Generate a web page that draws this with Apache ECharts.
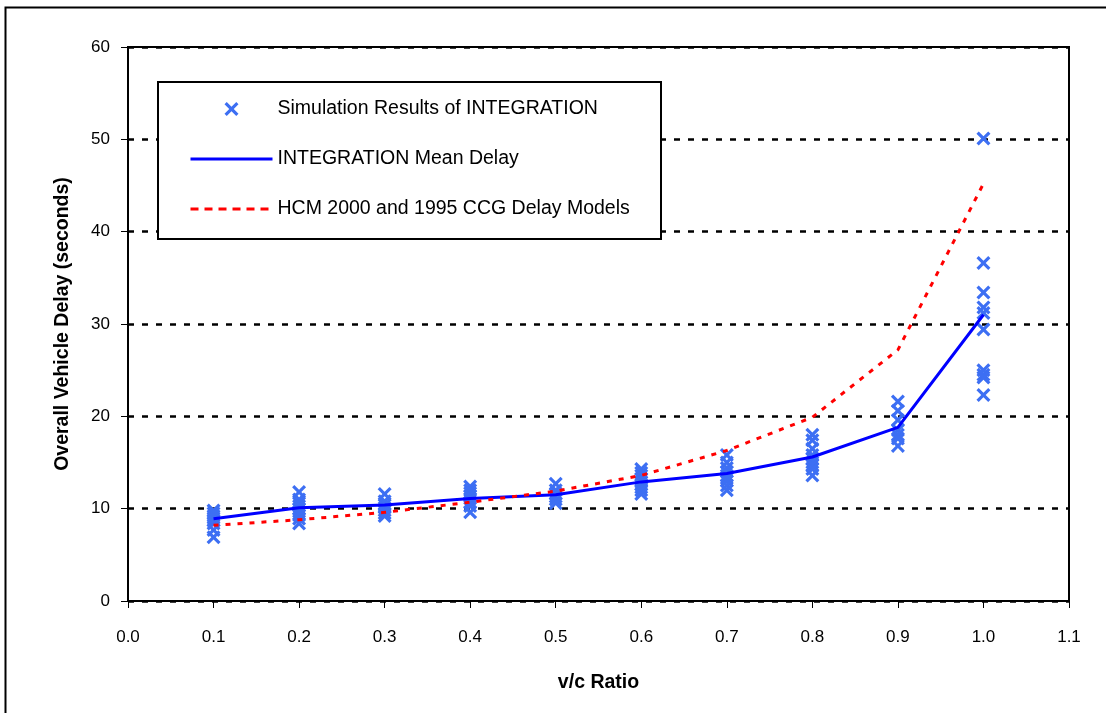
<!DOCTYPE html>
<html>
<head>
<meta charset="utf-8">
<script src="https://cdn.jsdelivr.net/npm/echarts@6/dist/echarts.min.js"></script>
<style>
html,body{margin:0;padding:0;background:#fff;}
#chart{width:1106px;height:713px;}
</style>
</head>
<body>
<div id="chart"></div>
<script>
// ---- data ----
var vcRatios = [0.1, 0.2, 0.3, 0.4, 0.5, 0.6, 0.7, 0.8, 0.9, 1.0];
var simDelays = [
  [9.8, 9.5, 9.2, 9.0, 8.7, 8.4, 7.7, 6.9],
  [11.8, 11.0, 10.6, 10.3, 10.0, 9.7, 9.3, 8.9, 8.4],
  [11.6, 10.8, 10.4, 10.1, 9.8, 9.5, 9.2],
  [12.4, 12.0, 11.7, 11.4, 11.1, 10.7, 10.3, 9.6],
  [12.7, 12.0, 11.6, 11.3, 11.0, 10.6],
  [14.3, 13.9, 13.6, 13.2, 12.9, 12.6, 12.3, 12.0, 11.6],
  [15.8, 15.0, 14.4, 14.0, 13.6, 13.3, 13.0, 12.5, 12.0],
  [18.0, 17.4, 16.5, 15.8, 15.4, 15.0, 14.7, 14.3, 13.6],
  [21.6, 20.6, 19.6, 18.5, 18.0, 17.6, 16.8],
  [50.1, 36.6, 33.4, 31.8, 31.2, 29.4, 25.0, 24.5, 24.2, 22.3]
];
var meanDelay = [8.9, 10.1, 10.4, 11.1, 11.5, 12.9, 13.8, 15.6, 18.8, 31.0];
var hcmDelay = [8.2, 8.8, 9.6, 10.7, 11.9, 13.6, 16.3, 19.9, 27.2, 45.2];
var xTicks = ['0.0','0.1','0.2','0.3','0.4','0.5','0.6','0.7','0.8','0.9','1.0','1.1'];
var seriesNames = ['Simulation Results of INTEGRATION', 'INTEGRATION Mean Delay', 'HCM 2000 and 1995 CCG Delay Models'];

// ---- build series data ----
var scatterData = [];
vcRatios.forEach(function (x, i) {
  simDelays[i].forEach(function (v) { scatterData.push([x, v]); });
});
var meanData = vcRatios.map(function (x, i) { return [x, meanDelay[i]]; });
var hcmData = vcRatios.map(function (x, i) { return [x, hcmDelay[i]]; });

var FONT = '"Liberation Sans", Arial, sans-serif';
var crossPath = 'path://M0,1.6 L1.6,0 L5,3.4 L8.4,0 L10,1.6 L6.6,5 L10,8.4 L8.4,10 L5,6.6 L1.6,10 L0,8.4 L3.4,5 Z';

var chart = echarts.init(document.getElementById('chart'), null, {renderer: 'canvas'});
chart.setOption({
  backgroundColor: '#ffffff',
  animation: false,
  graphic: [
    {type: 'rect', left: 3, top: 5, z: -10, silent: true,
     shape: {width: 1120, height: 730}, style: {fill: 'none', stroke: '#000', lineWidth: 2}},
    {type: 'rect', left: 157, top: 81, z: 5, silent: true,
     shape: {width: 503, height: 157}, style: {fill: '#fff', stroke: '#000', lineWidth: 2}}
  ],
  grid: {left: 128, top: 47, width: 941, height: 554, show: true, borderColor: '#000', borderWidth: 2, backgroundColor: 'transparent'},
  legend: {
    orient: 'vertical', left: 189, top: 99, z: 10, padding: 0,
    itemWidth: 82, itemHeight: 14, itemGap: 30,
    data: [
      {name: seriesNames[0]},
      {name: seriesNames[1], itemStyle: {opacity: 0}, lineStyle: {width: 3, color: '#0000ff'}},
      {name: seriesNames[2], itemStyle: {opacity: 0}, lineStyle: {width: 3, color: '#ff0000', type: [8, 6]}}
    ],
    textStyle: {fontFamily: FONT, fontSize: 19.5, lineHeight: 20, color: '#000', padding: [0, 0, 0, 0]}
  },
  xAxis: {
    type: 'value', min: 0, max: 1.1, interval: 0.1,
    name: 'v/c Ratio', nameLocation: 'middle', nameGap: 72,
    nameTextStyle: {fontFamily: FONT, fontSize: 19.5, fontWeight: 'bold', color: '#000'},
    axisLine: {show: true, onZero: false, lineStyle: {color: '#000', width: 2}},
    axisTick: {show: true, inside: false, length: 7, lineStyle: {color: '#000', width: 1}},
    axisLabel: {fontFamily: FONT, fontSize: 17, color: '#000', margin: 28,
      formatter: function (v) { return xTicks[Math.round(v * 10)]; }},
    splitLine: {show: false}
  },
  yAxis: {
    type: 'value', min: 0, max: 60, interval: 10,
    name: 'Overall Vehicle Delay (seconds)', nameLocation: 'middle', nameGap: 55,
    nameTextStyle: {fontFamily: FONT, fontSize: 19.5, fontWeight: 'bold', color: '#000'},
    axisLine: {show: true, lineStyle: {color: '#000', width: 2}},
    axisTick: {show: true, inside: false, length: 7, lineStyle: {color: '#000', width: 1}},
    axisLabel: {fontFamily: FONT, fontSize: 17, color: '#000', margin: 18},
    splitLine: {show: true, lineStyle: {color: '#000', width: 2.5, type: [6, 8]}}
  },
  series: [
    {
      name: seriesNames[0], type: 'scatter', data: scatterData,
      symbol: crossPath, symbolSize: 14, symbolKeepAspect: true,
      itemStyle: {color: '#3d6ff3', opacity: 1}, z: 2
    },
    {
      name: seriesNames[1], type: 'line', data: meanData,
      symbol: 'none', showSymbol: false,
      lineStyle: {color: '#0000ff', width: 3}, itemStyle: {color: '#0000ff'}, z: 3
    },
    {
      name: seriesNames[2], type: 'line', data: hcmData,
      symbol: 'none', showSymbol: false,
      lineStyle: {color: '#ff0000', width: 3, type: [5, 7]}, itemStyle: {color: '#ff0000'}, z: 3
    }
  ]
});
</script>
</body>
</html>
